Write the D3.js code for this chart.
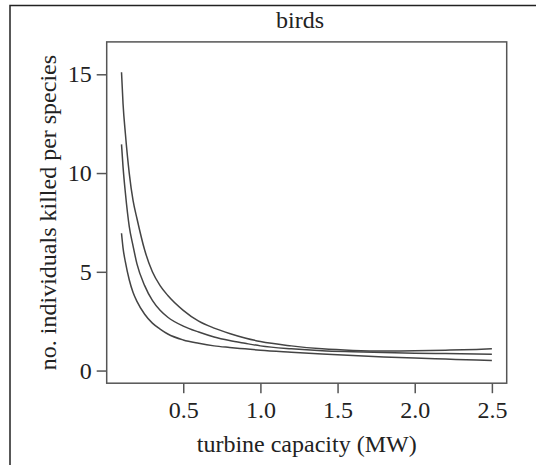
<!DOCTYPE html>
<html>
<head>
<meta charset="utf-8">
<script src="https://cdn.jsdelivr.net/npm/d3@7"></script>
<style>
  body { margin: 0; background: #fff; }
  svg { display: block; font-family: "Liberation Serif", "DejaVu Serif", serif; }
</style>
</head>
<body>
<div id="chart"></div>
<script>
// turbine capacity (MW)
var capacity = [0.1, 0.11, 0.125, 0.15, 0.175, 0.2, 0.25, 0.3, 0.35, 0.4, 0.5, 0.6, 0.7, 0.8, 0.9, 1.0, 1.2, 1.4, 1.6, 1.8, 2.0, 2.2, 2.4, 2.5];
// individuals killed per species (upper, fitted, lower)
var upper = [15.1, 13.5, 12.0, 10.0, 8.6, 7.7, 6.1, 5.0, 4.3, 3.8, 3.05, 2.5, 2.15, 1.88, 1.65, 1.47, 1.25, 1.1, 1.02, 0.99, 1.0, 1.03, 1.07, 1.10];
var fitted = [11.45, 10.3, 9.0, 7.3, 6.3, 5.4, 4.3, 3.55, 3.05, 2.7, 2.25, 1.95, 1.7, 1.52, 1.38, 1.25, 1.1, 1.0, 0.95, 0.91, 0.88, 0.86, 0.84, 0.83];
var lower = [6.95, 6.2, 5.5, 4.6, 3.95, 3.5, 2.85, 2.4, 2.1, 1.85, 1.55, 1.38, 1.25, 1.17, 1.1, 1.03, 0.93, 0.84, 0.76, 0.69, 0.63, 0.58, 0.53, 0.51];
var xTicks = [0.5, 1.0, 1.5, 2.0, 2.5];
var yTicks = [0, 5, 10, 15];

var W = 536, H = 465;
var box = {left: 106.7, right: 506.7, top: 41.9, bottom: 383.2};

var svg = d3.select('#chart')
    .append('svg')
    .attr('width', W)
    .attr('height', H);

// outer frame (top + left edges only)
svg.append('path')
    .attr('d', 'M10,' + H + 'V5.5H' + W)
    .attr('fill', 'none')
    .attr('stroke', '#222')
    .attr('stroke-width', 1.5);

var x = d3.scaleLinear()
    .domain([0.004, 2.596])
    .range([box.left, box.right]);

var y = d3.scaleLinear()
    .domain([-0.64, 16.64])
    .range([box.bottom, box.top]);

var xAxis = d3.axisBottom(x)
    .tickValues(xTicks)
    .tickFormat(d3.format('.1f'))
    .tickSize(10)
    .tickPadding(6);

var yAxis = d3.axisLeft(y)
    .tickValues(yTicks)
    .tickFormat(d3.format('d'))
    .tickSize(10)
    .tickPadding(5);

var gx = svg.append('g')
    .attr('transform', 'translate(0,' + box.bottom + ')')
    .call(xAxis);

var gy = svg.append('g')
    .attr('transform', 'translate(' + box.left + ',0)')
    .call(yAxis);

[gx, gy].forEach(function(g) {
    g.select('.domain').remove();
    g.selectAll('.tick line').attr('stroke', '#555').attr('stroke-width', 1.5);
    g.selectAll('.tick text')
        .attr('fill', '#222')
        .style('font-family', '"Liberation Serif", serif')
        .style('font-size', '24px');
});
gx.selectAll('.tick text').attr('dy', '0.78em');

// plot box
svg.append('rect')
    .attr('x', box.left)
    .attr('y', box.top)
    .attr('width', box.right - box.left)
    .attr('height', box.bottom - box.top)
    .attr('fill', 'none')
    .attr('stroke', '#555')
    .attr('stroke-width', 1.5);

var line = d3.line()
    .x(function(d) { return x(d[0]); })
    .y(function(d) { return y(d[1]); })
    .curve(d3.curveMonotoneX);

[upper, fitted, lower].forEach(function(series) {
    svg.append('path')
        .datum(d3.zip(capacity, series))
        .attr('d', line)
        .attr('fill', 'none')
        .attr('stroke', '#444')
        .attr('stroke-width', 1.5);
});

// titles
svg.append('text')
    .attr('x', 300)
    .attr('y', 28)
    .attr('text-anchor', 'middle')
    .attr('fill', '#222')
    .style('font-size', '24px')
    .text('birds');

svg.append('text')
    .attr('x', (box.left + box.right) / 2)
    .attr('y', 452)
    .attr('text-anchor', 'middle')
    .attr('fill', '#222')
    .style('font-size', '24px')
    .text('turbine capacity (MW)');

svg.append('text')
    .attr('transform', 'translate(56,' + ((box.top + box.bottom) / 2) + ') rotate(-90)')
    .attr('text-anchor', 'middle')
    .attr('fill', '#222')
    .style('font-size', '24px')
    .text('no. individuals killed per species');
</script>
</body>
</html>
